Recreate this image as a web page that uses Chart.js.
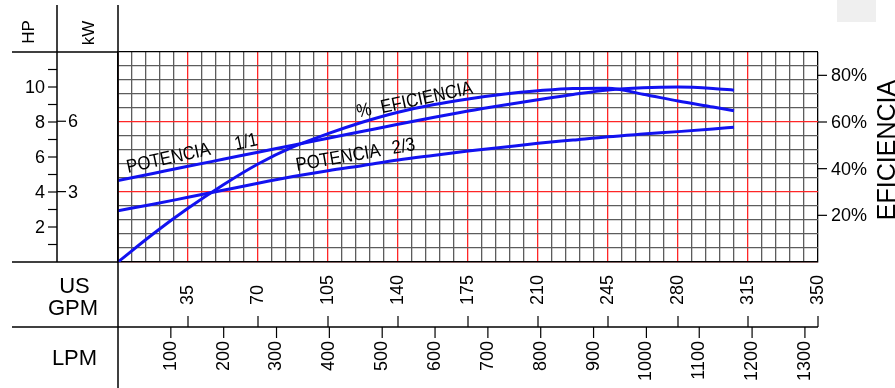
<!DOCTYPE html>
<html>
<head>
<meta charset="utf-8">
<script src="https://cdn.jsdelivr.net/npm/chart.js@4.4.0/dist/chart.umd.min.js"></script>
<style>
  body { margin: 0; background: #fff; }
  #wrap { position: relative; width: 895px; height: 388px; }
</style>
</head>
<body>
<div id="wrap"><canvas id="pump-chart"></canvas></div>
<script>
const pumpChart = document.getElementById("pump-chart");

// caudal en US GPM
const gpm = [0, 17.5, 35, 52.5, 70, 87.5, 105, 122.5, 140, 157.5, 175, 192.5, 210, 227.5, 245, 262.5, 280, 297.5, 308];
// % eficiencia
const eficiencia = [0, 12, 23, 33, 42, 49.3, 55, 60, 64.2, 67.4, 69.9, 71.9, 73.4, 74.4, 74.5, 71.9, 69.0, 66.4, 64.8];
// HP
const potencia11 = [4.65, 5.06, 5.47, 5.87, 6.27, 6.67, 7.07, 7.47, 7.87, 8.26, 8.63, 8.96, 9.27, 9.57, 9.83, 9.96, 10.0, 9.92, 9.82];
const potencia23 = [2.93, 3.3, 3.7, 4.1, 4.5, 4.88, 5.22, 5.52, 5.83, 6.09, 6.34, 6.56, 6.78, 6.97, 7.16, 7.31, 7.45, 7.6, 7.7];

const gpmTicks = [35, 70, 105, 140, 175, 210, 245, 280, 315, 350];
const lpmTicks = [100, 200, 300, 400, 500, 600, 700, 800, 900, 1000, 1100, 1200, 1300];
const hpTicks = [2, 4, 6, 8, 10];
const kwTicks = [3, 6];
const effTicks = [20, 40, 60, 80];
const LPM_PER_GPM = 3.785;
const HP_PER_KW = 1 / 0.746;

const blue = "rgb(18,18,240)";
const red = "#ff2626";
const gray = "#5c5c5c";

function pts(ys) {
  return gpm.map((g, i) => ({ x: g, y: ys[i] }));
}

const pumpAxes = {
  id: "pumpAxes",
  afterDraw(chart) {
    const { ctx, chartArea: a, scales } = chart;
    const x = scales.x, hp = scales.hp, ef = scales.y;
    const line = (x1, y1, x2, y2) => {
      ctx.beginPath(); ctx.moveTo(x1, y1); ctx.lineTo(x2, y2); ctx.stroke();
    };
    const rotText = (t, px, py, ang, align, base, sx) => {
      ctx.save();
      ctx.translate(px, py);
      ctx.rotate(ang);
      if (sx) ctx.scale(sx, 1);
      ctx.textAlign = align;
      ctx.textBaseline = base;
      ctx.fillText(t, 0, 0);
      ctx.restore();
    };
    const lpmRow = 327;

    ctx.save();
    ctx.fillStyle = "#efefef";
    ctx.fillRect(837, 0, 39, 22);

    ctx.strokeStyle = "#000";
    ctx.fillStyle = "#000";
    ctx.lineWidth = 1.5;
    line(57, 5, 57, a.bottom);
    line(a.left, 5, a.left, 388);
    line(12, a.top, a.left, a.top);
    line(12, a.bottom, a.left, a.bottom);
    line(12, lpmRow, a.right, lpmRow);

    ctx.lineWidth = 1.2;
    ctx.font = '18px "Liberation Sans"';
    // HP
    for (let h = 1; h <= 11; h++) line(48, hp.getPixelForValue(h), 57, hp.getPixelForValue(h));
    ctx.textAlign = "right"; ctx.textBaseline = "middle";
    hpTicks.forEach(h => ctx.fillText(String(h), 45, hp.getPixelForValue(h) + 1));
    // kW
    ctx.textAlign = "left";
    kwTicks.forEach(k => {
      const py = hp.getPixelForValue(k * HP_PER_KW);
      line(57, py, 66, py);
      ctx.fillText(String(k), 68, py + 1);
    });
    // eficiencia
    effTicks.forEach(e => {
      const py = ef.getPixelForValue(e);
      line(a.right, py, a.right + 9, py);
      ctx.fillText(e + "%", 831, py + 1);
    });
    // GPM
    gpmTicks.forEach(g => {
      const px = x.getPixelForValue(g);
      line(px, lpmRow, px, lpmRow - 11);
      rotText(String(g), px, 305, -Math.PI / 2, "left", "middle");
    });
    // LPM
    lpmTicks.forEach(l => {
      const px = x.getPixelForValue(l / LPM_PER_GPM);
      line(px, lpmRow, px, lpmRow + 11);
      rotText(String(l), px, 341, -Math.PI / 2, "right", "middle");
    });

    ctx.font = '17px "Liberation Sans"';
    rotText("HP", 29, 32, -Math.PI / 2, "center", "middle");
    rotText("kW", 89, 33, -Math.PI / 2, "center", "middle");
    ctx.font = '22px "Liberation Sans"';
    ctx.textAlign = "center"; ctx.textBaseline = "alphabetic";
    ctx.fillText("US", 74.5, 293);
    ctx.fillText("GPM", 73, 315);
    ctx.fillText("LPM", 74.5, 365);
    ctx.font = '25px "Liberation Sans"';
    rotText("EFICIENCIA", 895, 150, -Math.PI / 2, "center", "alphabetic");

    // rótulos de curvas
    ctx.font = '19px "Liberation Sans"';
    const lab = (t, g, h, deg) =>
      rotText(t, x.getPixelForValue(g), hp.getPixelForValue(h), -deg * Math.PI / 180, "left", "alphabetic", 0.88);
    lab("POTENCIA", 5, 5.09, 12.4);
    lab("1/1", 59, 6.4, 12.4);
    lab("%", 120, 8.25, 12.2);
    lab("EFICIENCIA", 132, 8.5, 12.2);
    lab("POTENCIA", 89.5, 5.2, 10);
    lab("2/3", 137.5, 6.17, 10);
    ctx.restore();
  }
};

new Chart(pumpChart, {
  type: "line",
  data: {
    datasets: [
      { label: "% Eficiencia", data: pts(eficiencia), yAxisID: "y" },
      { label: "Potencia 1/1", data: pts(potencia11), yAxisID: "hp" },
      { label: "Potencia 2/3", data: pts(potencia23), yAxisID: "hp" },
    ].map(d => Object.assign(d, {
      borderColor: blue,
      borderWidth: 3,
      pointRadius: 0,
      cubicInterpolationMode: "monotone",
      fill: false,
    })),
  },
  plugins: [pumpAxes],
  options: {
    responsive: true,
    maintainAspectRatio: false,
    animation: false,
    layout: { padding: { left: 118, top: 52, right: 77, bottom: 126 } },
    plugins: { legend: { display: false }, tooltip: { enabled: false } },
    scales: {
      x: {
        type: "linear",
        min: 0,
        max: 350,
        ticks: { display: false, stepSize: 7, maxTicksLimit: 100, autoSkip: false },
        grid: {
          drawTicks: false,
          lineWidth: 1.3,
          color: c => (c.tick.value === 350 ? "#000" : c.tick.value % 35 === 0 ? red : gray),
        },
        border: { color: "#000", width: 1.5 },
      },
      y: {
        min: 0,
        max: 90,
        ticks: { display: false, stepSize: 6, maxTicksLimit: 100, autoSkip: false },
        grid: {
          drawTicks: false,
          lineWidth: 1.3,
          color: c => (c.tick.value === 90 ? "#000" : c.tick.value % 30 === 0 ? red : gray),
        },
        border: { color: "#000", width: 1.5 },
      },
      hp: { display: false, min: 0, max: 12 },
    },
  },
});
</script>
</body>
</html>
